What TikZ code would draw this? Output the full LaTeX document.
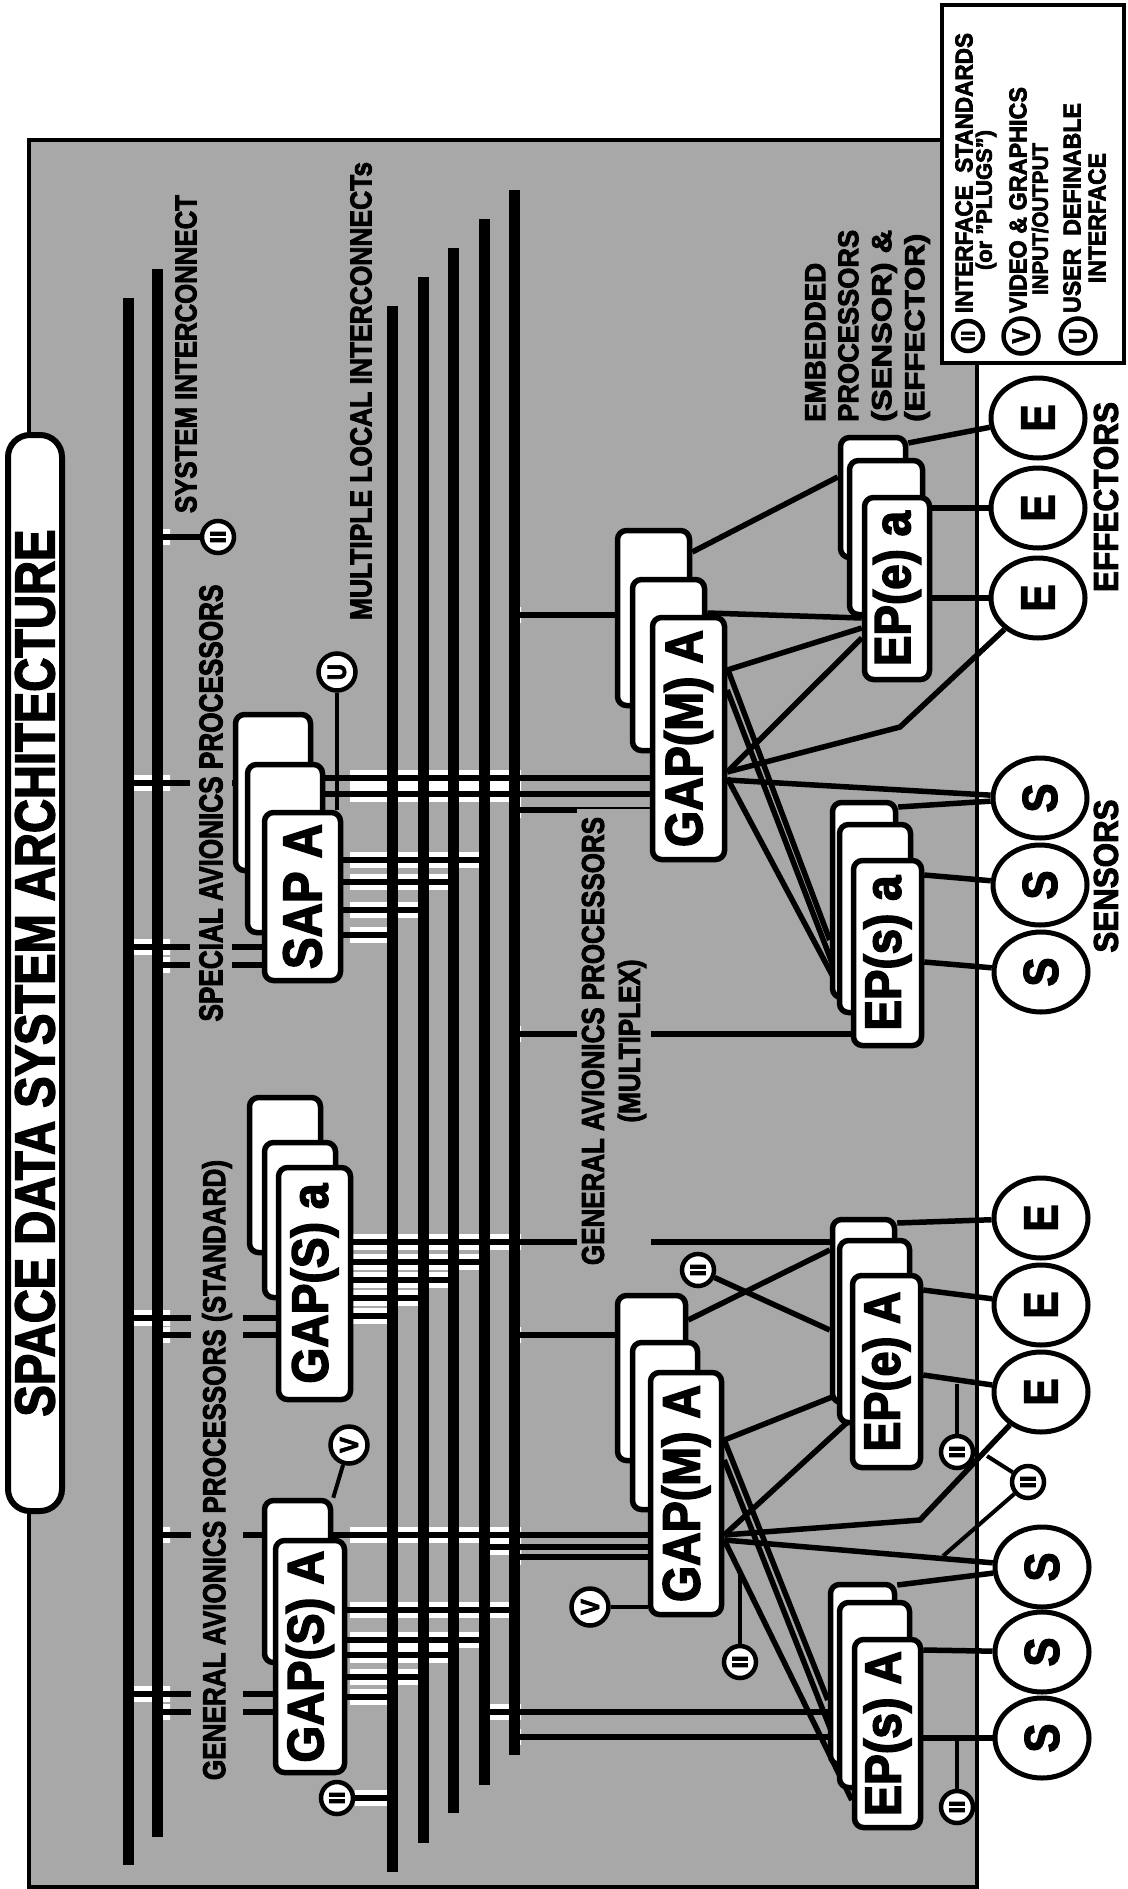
\documentclass[tikz,border=0pt]{standalone}
\usepackage{fontspec}
\setmainfont{Liberation Sans}[BoldFeatures={FakeBold=3}]
\usepackage{graphicx}
\usetikzlibrary{shapes.geometric}
\colorlet{panel}{black!34}
\pgfdeclarelayer{bgl}
\pgfdeclarelayer{casl}
\pgfdeclarelayer{barl}
\pgfdeclarelayer{wirel}
\pgfsetlayers{bgl,casl,barl,wirel,main}
\newcommand{\fitT}[3]{\resizebox{#1pt}{#2pt}{\bfseries #3}}
\newcommand{\rfit}[3]{\rotatebox{90}{\fitT{#1}{#2}{#3}}}
\newcommand{\mkcard}[6]{\node[card, minimum width={#4-#2-5}, minimum height={#5-#3-5}] (#1) at ({(#2+#4)/2},{(#3+#5)/2}) {#6};}
\newcommand{\allwires}{%
 % system interconnect taps
 \W (S2 |- IIsys) -- (IIsys);
 \W (S1 |- 0,783) -- (SAP2.west |- 0,783);
 \W (S1 |- 0,947) -- (SAP.west |- 0,947);
 \W (S2 |- 0,965) -- (SAP.west |- 0,965);
 \W (S1 |- 0,1318) -- (GSa.west |- 0,1318);
 \W (S2 |- 0,1335) -- (GSa.west |- 0,1335);
 \W (S2 |- 0,1535) -- (GSA1.west |- 0,1535);
 \W (S1 |- 0,1694) -- (GSA.west |- 0,1694);
 \W (S2 |- 0,1712) -- (GSA.west |- 0,1712);
 % SAP
 \W (SAP.east |- 0,860) -- (L4 |- 0,860);
 \W (SAP.east |- 0,882) -- (L3 |- 0,882);
 \W (SAP.east |- 0,910) -- (L2 |- 0,910);
 \W (SAP.east |- 0,935) -- (L1 |- 0,935);
 \W (SAP1.east |- 0,778) -- (GMa.west |- 0,778);
 \W (SAP1.east |- 0,794) -- (GMa.west |- 0,794);
 \W (L5 |- 0,615) -- (GMa2.west |- 0,615);
 \W (L5 |- 0,810) -- (GMa.west |- 0,810);
 \W (L5 |- 0,1034) -- (EPsa.west |- 0,1034);
 % GAP(S) a
 \W (GSa.east |- 0,1242) -- (L5 |- 0,1242);
 \W (L5 |- 0,1242) -- (EPeA2.west |- 0,1242);
 \W (GSa.east |- 0,1262) -- (L4 |- 0,1262);
 \W (GSa.east |- 0,1280) -- (L3 |- 0,1280);
 \W (GSa.east |- 0,1298) -- (L2 |- 0,1298);
 \W (GSa.east |- 0,1316) -- (L1 |- 0,1316);
 \W (L5 |- 0,1335) -- (GMb2.west |- 0,1335);
 % GAP(S) A
 \W (GSA1.east |- 0,1535) -- (GMb.west |- 0,1535);
 \W (L4 |- 0,1547) -- (GMb.west |- 0,1547);
 \W (L5 |- 0,1557) -- (GMb.west |- 0,1557);
 \W (GSA.east |- 0,1610) -- (L5 |- 0,1610);
 \W (GSA.east |- 0,1640) -- (L4 |- 0,1640);
 \W (GSA.east |- 0,1655) -- (L3 |- 0,1655);
 \W (GSA.east |- 0,1677) -- (L2 |- 0,1677);
 \W (GSA.east |- 0,1697) -- (L1 |- 0,1697);
 \W (II1) -- (L1 |- II1);
 \W (L4 |- 0,1712) -- (EPsA2.west |- 0,1712);
 \W (L5 |- 0,1737) -- (EPsA1.west |- 0,1737);
 % upper multiplex fan
 \W (GMa2.east |- 0,552) -- (EPea2.west |- 0,477);
 \W (GMa1.east |- 0,613) -- (EPea.west |- 0,618);
 \W (GMa.east |- 0,670) -- (EPea.west |- 0,628);
 \W (GMa.east |- 0,772) -- (EPea.west |- 0,638);
 \W (GMa.east |- 0,772) -- (900,727) -- (E3a);
 \W (GMa.east |- 0,780) -- (S1a);
 \W (GMa.east |- 0,668) -- (EPsa2.west |- 0,940);
 \W (GMa.east |- 0,690) -- (EPsa1.west |- 0,975);
 \W (GMa.east |- 0,778) -- (EPsa.west |- 0,1010);
 \W (EPea2.east |- 0,443) -- (E1a);
 \W (EPea.east |- 0,508) -- (E2a);
 \W (EPea.east |- 0,598) -- (E3a);
 \W (EPsa2.east |- 0,807) -- (S1a);
 \W (EPsa.east |- 0,875) -- (S2a);
 \W (EPsa.east |- 0,962) -- (S3a);
 % lower multiplex fan
 \W (GMb2.east |- 0,1320) -- (EPeA2.west |- 0,1250);
 \W (IIm) -- (EPeA2.west |- 0,1330);
 \W (GMb.east |- 0,1440) -- (EPeA.west |- 0,1390);
 \W (GMb.east |- 0,1535) -- (EPeA.west |- 0,1420);
 \W (GMb.east |- 0,1535) -- (920,1520) -- (E3b);
 \W (GMb.east |- 0,1540) -- (S1b);
 \W (GMb.east |- 0,1440) -- (EPsA2.west |- 0,1700);
 \W (GMb.east |- 0,1460) -- (EPsA1.west |- 0,1745);
 \W (GMb.east |- 0,1540) -- (EPsA.west |- 0,1800);
 \W (EPeA2.east |- 0,1223) -- (E1b);
 \W (EPeA.east |- 0,1290) -- (E2b);
 \W (EPeA.east |- 0,1375) -- (E3b);
 \W (EPsA2.east |- 0,1585) -- (S1b);
 \W (EPsA.east |- 0,1650) -- (S2b);
 \W (EPsA.east |- 0,1738) -- (S3b);
}
\begin{document}
\begin{tikzpicture}[x=1pt,y=-1pt,
  bar/.style={line width=11pt},
  wire/.style={line width=5.5pt},
  stem/.style={line width=4pt},
  card/.style={rectangle, draw, line width=5.5pt, fill=white, rounded corners=9pt, inner sep=0pt},
  ell/.style={ellipse, draw, line width=5pt, fill=white, minimum width=94pt, minimum height=80pt, inner sep=0pt},
  plug/.style={circle, draw, line width=4.5pt, fill=white, minimum size=32pt, inner sep=0pt},
  bigplug/.style={plug, minimum size=37pt},
  lbl/.style={rotate=90, inner sep=0pt},
  casing/.style={white, line width=16pt}
]
\useasboundingbox (0,0) rectangle (1127,1889);
% bus coordinates
\coordinate (S1) at (128,0);
\coordinate (S2) at (157,0);
\coordinate (L1) at (392,0);
\coordinate (L2) at (423,0);
\coordinate (L3) at (453,0);
\coordinate (L4) at (484,0);
\coordinate (L5) at (514,0);

\begin{pgfonlayer}{bgl}
  \draw[line width=4pt, fill=panel] (29,140) rectangle (977,1887);
  \draw[line width=4pt, fill=white] (942,5) rectangle (1124,363);
\end{pgfonlayer}

% title
\node[card, line width=6pt, rounded corners=22pt, minimum width=54pt, minimum height=1076pt] (title) at (35,973)
  {\rfit{887}{39}{SPACE DATA SYSTEM ARCHITECTURE}};

% labels
\node[lbl] (lsys) at (186,354) {\fitT{318}{21}{SYSTEM INTERCONNECT}};
\node[lbl] (lmulti) at (361,391) {\fitT{458}{21}{MULTIPLE LOCAL INTERCONNECTs}};
\node[lbl, fill=panel, inner xsep=6pt, inner ysep=9pt] (lsap) at (211,803) {\fitT{437}{23}{SPECIAL AVIONICS PROCESSORS}};
\node[lbl, fill=panel, inner xsep=6pt, inner ysep=11pt] (lgs) at (217,1470) {\fitT{620}{23}{GENERAL AVIONICS PROCESSORS (STANDARD)}};
\node[lbl, fill=panel, align=center, inner xsep=8pt, inner ysep=5pt, font=\fontsize{22}{36}\selectfont] (lgm) at (614,1041)
  {\fitT{448}{22}{GENERAL AVIONICS PROCESSORS}\\\fitT{163}{22}{(MULTIPLEX)}};
\node[lbl, align=left, anchor=north west, font=\fontsize{20}{33}\selectfont] (lemb) at (805,422)
  {\fitT{159}{20}{EMBEDDED}\\\fitT{192}{20}{PROCESSORS}\\\fitT{192}{20}{(SENSOR) \&}\\\fitT{188}{20}{(EFFECTOR)}};
\node[lbl] (leff) at (1106,497) {\fitT{190}{24}{EFFECTORS}};
\node[lbl] (lsen) at (1106,876) {\fitT{153}{24}{SENSORS}};
% legend
\node[lbl] (leg1) at (964,173) {\fitT{280}{17}{INTERFACE\ \ STANDARDS}};
\node[lbl] (leg1b) at (986,200) {\fitT{140}{16}{(or "PLUGS")}};
\node[lbl] (leg2) at (1018,200) {\fitT{226}{17}{VIDEO \& GRAPHICS}};
\node[lbl] (leg2b) at (1040,219) {\fitT{152}{16}{INPUT/OUTPUT}};
\node[lbl] (leg3) at (1072,208) {\fitT{210}{17}{USER\ \ DEFINABLE}};
\node[lbl] (leg3b) at (1097,218) {\fitT{130}{17}{INTERFACE}};
\node[plug, minimum size=30pt] (LgII) at (968,336) {\rfit{11}{13}{II}};
\node[bigplug, minimum size=35pt] (LgV) at (1021,336) {\rfit{15}{17}{V}};
\node[bigplug, minimum size=35pt] (LgU) at (1078,336) {\rfit{15}{17}{U}};

% processor cards (back to front)
\mkcard{SAP2}{233}{712}{313}{873}{}
\mkcard{SAP1}{245}{762}{325}{935}{}
\mkcard{SAP}{262}{810}{343}{983}{\rfit{145}{38}{SAP A}}
\mkcard{GSa2}{247}{1095}{323}{1255}{}
\mkcard{GSa1}{262}{1140}{338}{1300}{}
\mkcard{GSa}{276}{1165}{353}{1402}{\rfit{200}{37}{GAP(S) a}}
\mkcard{GSA1}{262}{1498}{333}{1665}{}
\mkcard{GSA}{273}{1538}{347}{1775}{\rfit{212}{37}{GAP(S) A}}
\mkcard{GMa2}{615}{528}{692}{708}{}
\mkcard{GMa1}{630}{577}{707}{753}{}
\mkcard{GMa}{650}{615}{727}{862}{\rfit{217}{38}{GAP(M) A}}
\mkcard{GMb2}{615}{1293}{688}{1463}{}
\mkcard{GMb1}{630}{1340}{700}{1512}{}
\mkcard{GMb}{648}{1370}{724}{1617}{\rfit{217}{38}{GAP(M) A}}
\mkcard{EPea2}{838}{435}{908}{560}{}
\mkcard{EPea1}{847}{458}{925}{617}{}
\mkcard{EPea}{862}{495}{932}{682}{\rfit{155}{37}{EP(e) a}}
\mkcard{EPsa2}{830}{800}{898}{1000}{}
\mkcard{EPsa1}{837}{822}{913}{1015}{}
\mkcard{EPsa}{851}{858}{924}{1048}{\rfit{155}{37}{EP(s) a}}
\mkcard{EPeA2}{830}{1217}{897}{1405}{}
\mkcard{EPeA1}{837}{1238}{912}{1425}{}
\mkcard{EPeA}{850}{1273}{923}{1470}{\rfit{160}{37}{EP(e) A}}
\mkcard{EPsA2}{828}{1582}{897}{1767}{}
\mkcard{EPsA1}{837}{1600}{912}{1790}{}
\mkcard{EPsA}{852}{1637}{923}{1830}{\rfit{165}{37}{EP(s) A}}

% sensors and effectors
\node[ell] (E1a) at (1038,418) {\rfit{27}{33}{E}};
\node[ell] (E2a) at (1038,508) {\rfit{27}{33}{E}};
\node[ell] (E3a) at (1038,598) {\rfit{27}{33}{E}};
\node[ell] (S1a) at (1040,798) {\rfit{29}{34}{S}};
\node[ell] (S2a) at (1040,885) {\rfit{29}{34}{S}};
\node[ell] (S3a) at (1041,972) {\rfit{29}{34}{S}};
\node[ell] (E1b) at (1041,1218) {\rfit{27}{33}{E}};
\node[ell] (E2b) at (1041,1305) {\rfit{27}{33}{E}};
\node[ell] (E3b) at (1041,1392) {\rfit{27}{33}{E}};
\node[ell] (S1b) at (1042,1567) {\rfit{29}{34}{S}};
\node[ell] (S2b) at (1042,1652) {\rfit{29}{34}{S}};
\node[ell] (S3b) at (1042,1738) {\rfit{29}{34}{S}};

% plugs
\node[plug] (IIsys) at (218,537) {\rfit{13}{15}{II}};
\node[bigplug] (U) at (337,672) {\rfit{16}{18}{U}};
\node[bigplug] (V1) at (349,1445) {\rfit{16}{18}{V}};
\node[plug] (II1) at (337,1798) {\rfit{13}{15}{II}};
\node[bigplug] (V2) at (590,1607) {\rfit{16}{18}{V}};
\node[plug] (IIg) at (740,1662) {\rfit{13}{15}{II}};
\node[plug] (IIm) at (698,1270) {\rfit{13}{15}{II}};
\node[plug] (IIe) at (957,1452) {\rfit{13}{15}{II}};
\node[plug] (IIx) at (1028,1482) {\rfit{13}{15}{II}};
\node[plug] (IIs) at (957,1807) {\rfit{13}{15}{II}};

\coordinate (tIIg) at (740,1570);
\coordinate (tIIe) at (957,1384);
\coordinate (tIIs) at (957,1739);
\coordinate (tIIx1) at (943,1556);
\coordinate (tIIx2) at (987,1456);

% casings
\begin{pgfonlayer}{casl}
  \begin{scope}
    \clip (115,0) rectangle (170,1889) (350,0) rectangle (521,1889);
    \def\W{\draw[casing]}
    \allwires
  \end{scope}
\end{pgfonlayer}
% buses
\begin{pgfonlayer}{barl}
  \draw[bar] (S1 |- 0,298) -- (S1 |- 0,1865);
  \draw[bar] (S2 |- 0,269) -- (S2 |- 0,1837);
  \draw[bar] (L1 |- 0,306) -- (L1 |- 0,1872);
  \draw[bar] (L2 |- 0,277) -- (L2 |- 0,1843);
  \draw[bar] (L3 |- 0,248) -- (L3 |- 0,1813);
  \draw[bar] (L4 |- 0,219) -- (L4 |- 0,1785);
  \draw[bar] (L5 |- 0,190) -- (L5 |- 0,1755);
\end{pgfonlayer}
% wires
\begin{pgfonlayer}{wirel}
  \def\W{\draw[wire]}
  \allwires
  \draw[stem] (U) -- (U |- SAP.north);
  \draw[stem] (V1) -- (GSA1.north east);
  \draw[stem] (V2) -- (GMb.west |- V2);
  \draw[stem] (IIg) -- (tIIg);
  \draw[stem] (IIe) -- (tIIe);
  \draw[stem] (IIs) -- (tIIs);
  \draw[stem] (tIIx1) -- (IIx) -- (tIIx2);
\end{pgfonlayer}
\end{tikzpicture}
\end{document}
